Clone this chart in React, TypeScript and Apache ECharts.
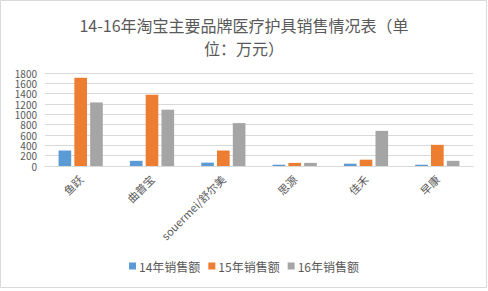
import React, { useEffect, useRef } from "react";
import * as echarts from "echarts";

const categories = ["鱼跃", "曲普宝", "souermei/舒尔美", "思源", "佳禾", "早康"];
const sales14 = [300, 100, 65, 25, 45, 25];
const sales15 = [1710, 1380, 300, 60, 122, 410];
const sales16 = [1230, 1090, 830, 60, 680, 100];
const seriesNames = ["14年销售额", "15年销售额", "16年销售额"];
const colors = ["#5B9BD5", "#ED7D31", "#A5A5A5"];

export default function App() {
  const ref = useRef<HTMLDivElement>(null);
  useEffect(() => {
    if (!ref.current) return;
    const chart = echarts.init(ref.current, null, { renderer: "svg" });
    const font = "'Noto Sans CJK SC', 'Noto Sans', sans-serif";
    const mk = (name: string, data: number[], color: string) => ({
      name,
      type: "bar",
      data,
      itemStyle: { color },
      barGap: "25%",
      barCategoryGap: "38%",
    });
    chart.setOption({
      animation: false,
      textStyle: { fontFamily: font },
      title: {
        text: "14-16年淘宝主要品牌医疗护具销售情况表（单\n位：万元）",
        left: "center",
        top: 8,
        textStyle: {
          fontSize: 16,
          fontWeight: "normal",
          color: "#595959",
          lineHeight: 23,
          fontFamily: font,
          align: "center",
        },
      },
      legend: {
        bottom: 14,
        left: "center",
        itemWidth: 7,
        itemHeight: 7,
        itemGap: 8,
        icon: "rect",
        textStyle: { fontSize: 12, color: "#595959", fontFamily: font, padding: [0, 0, 0, -2] },
        data: seriesNames,
      },
      grid: { left: 45, right: 15, top: 73, bottom: 125, containLabel: false },
      xAxis: {
        type: "category",
        data: categories,
        axisLine: { lineStyle: { color: "#D9D9D9" } },
        axisTick: { show: false },
        axisLabel: { rotate: 45, fontSize: 11, color: "#595959", margin: 11, interval: 0 },
      },
      yAxis: {
        type: "value",
        min: 0,
        max: 1800,
        interval: 200,
        axisLine: { show: false },
        axisTick: { show: false },
        splitLine: { lineStyle: { color: "#D9D9D9" } },
        axisLabel: {
          fontSize: 10,
          color: "#595959",
          margin: 8,
          lineHeight: 9,
          interval: 0,
          hideOverlap: false,
          showMinLabel: true,
          showMaxLabel: true,
          formatter: (v: number) => String(v),
        },
      },
      graphic: [
        {
          type: "rect",
          shape: { x: 0.5, y: 0.5, width: 486, height: 287 },
          style: { fill: "none", stroke: "#D9D9D9", lineWidth: 1 },
          silent: true,
        },
      ],
      series: [
        mk(seriesNames[0], sales14, colors[0]),
        mk(seriesNames[1], sales15, colors[1]),
        mk(seriesNames[2], sales16, colors[2]),
      ],
    });
    return () => chart.dispose();
  }, []);
  return (
    <div
      ref={ref}
      style={{ position: "fixed", left: 0, top: 0, width: 488, height: 291, background: "#fff" }}
    />
  );
}
